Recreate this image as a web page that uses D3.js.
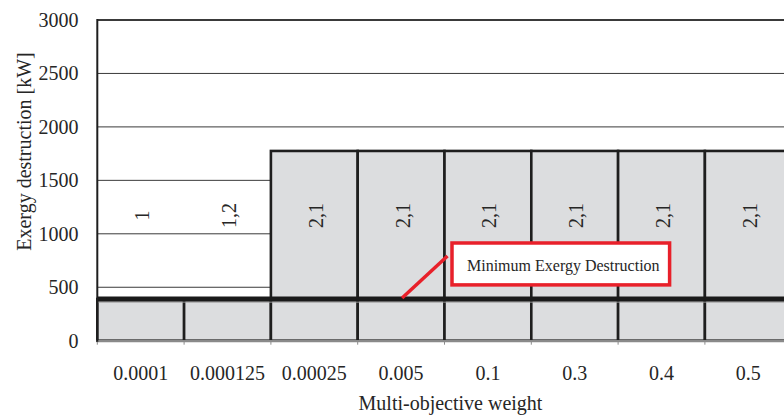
<!DOCTYPE html>
<html><head><meta charset="utf-8">
<script src="https://cdn.jsdelivr.net/npm/d3@7"></script>
<style>
html,body{margin:0;padding:0;background:#fff;}
svg{display:block;}
</style></head>
<body>
<svg id="chart" width="784" height="415"></svg>
<script>
// ---- data ----
const categories = ["0.0001","0.000125","0.00025","0.005","0.1","0.3","0.4","0.5"];
const totalValues = [390, 390, 1775, 1775, 1775, 1775, 1775, 1775];
const minimumValues = [390, 390, 390, 390, 390, 390, 390, 390];
const barLabels = ["1","1,2","2,1","2,1","2,1","2,1","2,1","2,1"];
const yTicks = [0, 500, 1000, 1500, 2000, 2500, 3000];
const yTitle = "Exergy destruction [kW]";
const xTitle = "Multi-objective weight";
const annotationText = "Minimum Exergy Destruction";

// ---- layout ----
const FONT = '"Liberation Serif", "Times New Roman", serif';
const TXT = "#262626";
const svg = d3.select("#chart");
const x = d3.scaleBand().domain(categories).range([97.3, 791.7]).padding(0);
const y = d3.scaleLinear().domain([0, 3000]).range([340.7, 20]);
const bw = x.bandwidth();
const xl = x.range()[0], xr = x.range()[1];

// gridlines
svg.append("g").selectAll("line").data(yTicks.filter(d => d > 0)).join("line")
  .attr("x1", xl).attr("x2", 784)
  .attr("y1", d => y(d)).attr("y2", d => y(d))
  .attr("stroke", "#3a3a3a").attr("stroke-width", d => d === 3000 ? 2 : 1);

// bars
svg.append("g").selectAll("rect").data(categories).join("rect")
  .attr("x", d => x(d))
  .attr("y", (d, i) => y(totalValues[i]))
  .attr("width", bw)
  .attr("height", (d, i) => y(0) - y(totalValues[i]))
  .attr("fill", "#dcdddf")
  .attr("stroke", "#1e1e1e").attr("stroke-width", 2.6);

// minimum line (thick) with slight shadow
const minLine = d3.line().x(d => d[0]).y(d => d[1]).curve(d3.curveStepAfter);
const minPts = categories.map((c, i) => [x(c), y(minimumValues[i])]);
minPts.push([xr, y(minimumValues[minimumValues.length - 1])]);
svg.append("path").datum(minPts.map(p => [p[0], p[1] + 3]))
  .attr("d", minLine).attr("fill", "none").attr("stroke", "#9a9a9a").attr("stroke-width", 2).attr("opacity", 0.6);
svg.append("path").datum(minPts)
  .attr("d", minLine).attr("fill", "none").attr("stroke", "#1a1a1a").attr("stroke-width", 5);

// bottom axis
const gx = svg.append("g").attr("transform", `translate(0,${y(0)})`);
gx.append("line").attr("x1", xl - 1).attr("x2", 784).attr("y1", 0.5).attr("y2", 0.5)
  .attr("stroke", "#8a8a8a").attr("stroke-width", 2.2);
gx.selectAll("line.tk").data(categories).join("line").attr("class", "tk")
  .attr("x1", d => x(d)).attr("x2", d => x(d)).attr("y1", 0).attr("y2", 4)
  .attr("stroke", "#8a8a8a").attr("stroke-width", 1);
gx.selectAll("text.xl").data(categories).join("text").attr("class", "xl")
  .attr("x", d => x(d) + bw / 2).attr("y", 39.5)
  .attr("text-anchor", "middle").attr("font-family", FONT).attr("fill", TXT)
  .attr("font-size", 20).text(d => d);

// left axis
svg.append("line").attr("x1", xl).attr("x2", xl).attr("y1", y(3000) - 1).attr("y2", y(0) + 1)
  .attr("stroke", "#1e1e1e").attr("stroke-width", 2);
svg.append("g").selectAll("text").data(yTicks).join("text")
  .attr("x", 78.5).attr("y", d => y(d))
  .attr("dy", "0.35em").attr("font-family", FONT).attr("fill", TXT)
  .attr("text-anchor", "end").attr("font-size", 20).text(d => d);

// bar labels (rotated)
const labelY = y(1171);
svg.append("g").selectAll("text").data(categories).join("text")
  .attr("transform", (d, i) => `translate(${x(d) + bw / 2 + 1.5},${labelY}) rotate(-90)`)
  .attr("text-anchor", "middle").attr("dy", "0.35em").attr("font-family", FONT).attr("fill", TXT)
  .attr("font-size", 20).text((d, i) => barLabels[i]);

// axis titles
svg.append("text").attr("transform", `translate(24,151.5) rotate(-90)`)
  .attr("text-anchor", "middle").attr("dy", "0.35em").attr("font-family", FONT).attr("fill", TXT)
  .attr("font-size", 20).text(yTitle);
svg.append("text").attr("x", 450.5).attr("y", 410)
  .attr("text-anchor", "middle").attr("font-family", FONT).attr("fill", TXT)
  .attr("font-size", 20).text(xTitle);

// annotation
const red = "#e8202a";
const a0 = [x("0.005") + bw / 2 + 1, y(minimumValues[3]) - 1];
const a1 = [x("0.1") + 3, y(792)];
svg.append("line").attr("x1", a0[0]).attr("y1", a0[1]).attr("x2", a1[0]).attr("y2", a1[1])
  .attr("stroke", red).attr("stroke-width", 3.5);
const bx0 = x("0.1") + 7.5, bx1 = x("0.4") + 51.5, by0 = y(914), by1 = y(522);
svg.append("rect").attr("x", bx0).attr("y", by0).attr("width", bx1 - bx0).attr("height", by1 - by0)
  .attr("fill", "#fff").attr("stroke", red).attr("stroke-width", 3.5);
svg.append("text").attr("x", bx0 + 15).attr("y", (by0 + by1) / 2 + 1).attr("dy", "0.35em")
  .attr("font-family", FONT).attr("fill", TXT)
  .attr("font-size", 16).text(annotationText);
</script>
</body></html>
